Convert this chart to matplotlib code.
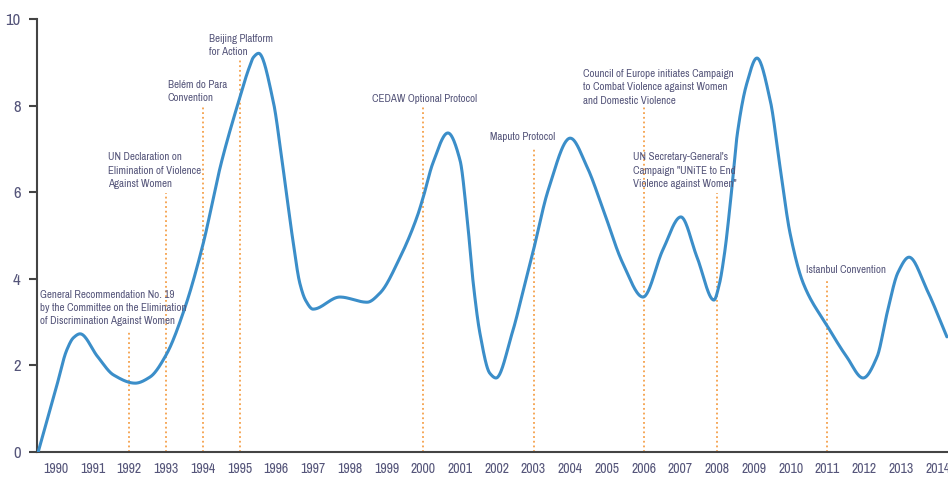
import numpy as np
import matplotlib
matplotlib.use("Agg")
import matplotlib.pyplot as plt
from matplotlib import font_manager

# ---- data ----
curve_year = [1989.52, 1990.0, 1990.3, 1990.48, 1990.66, 1991.14, 1991.57, 1992.16, 1992.56,
              1993.0, 1993.5, 1994.0, 1994.5, 1995.0, 1995.25, 1995.38, 1995.52, 1995.91, 1996.18,
              1996.45, 1996.64, 1996.8, 1997.0, 1997.73, 1998.47, 1998.82, 1999.37, 1999.83,
              2000.0, 2000.26, 2000.67, 2001.0, 2001.19, 2001.36, 2001.54, 2001.81,
              2001.98, 2002.42, 2002.77, 2003.0, 2003.4, 2004.0, 2004.46, 2004.9,
              2005.43, 2005.98, 2006.52, 2007.01, 2007.45, 2007.91, 2008.05, 2008.2, 2008.35,
              2008.55, 2008.8, 2009.08, 2009.44, 2009.71, 2009.98, 2010.34, 2011.01, 2011.53,
              2011.97, 2012.35, 2012.62, 2012.92, 2013.22, 2013.71, 2014.25]
curve_value = [0.0, 1.45, 2.36, 2.64, 2.73, 2.2, 1.78, 1.59, 1.73,
               2.24, 3.3, 4.78, 6.67, 8.17, 8.85, 9.12, 9.21, 8.13, 6.58,
               4.9, 3.9, 3.5, 3.30, 3.58, 3.46, 3.67, 4.5, 5.43,
               5.89, 6.67, 7.37, 6.74, 5.43, 3.9, 2.75, 1.82,
               1.71, 2.75, 3.9, 4.67, 6.05, 7.25, 6.58, 5.59,
               4.36, 3.58, 4.67, 5.43, 4.5, 3.51, 3.85, 4.6, 5.7,
               7.37, 8.5, 9.1, 8.13, 6.58, 5.06, 3.9, 2.89, 2.19,
               1.71, 2.2, 3.2, 4.15, 4.5, 3.74, 2.66]

tick_years = list(range(1990, 2015))
y_ticks = [0, 2, 4, 6, 8, 10]

event_years = [1992, 1993, 1994, 1995, 2000, 2003, 2006, 2008, 2011]
event_tops = [2.82, 5.98, 8.01, 9.05, 7.97, 7.04, 7.97, 5.98, 3.97]
event_labels = [
    "General Recommendation No. 19\nby the Committee on the Elimination\nof Discrimination Against Women",
    "UN Declaration on\nElimination of Violence\nAgainst Women",
    "Belém do Para\nConvention",
    "Beijing Platform\nfor Action",
    "CEDAW Optional Protocol",
    "Maputo Protocol",
    "Council of Europe initiates Campaign\nto Combat Violence against Women\nand Domestic Violence",
    "UN Secretary-General's\nCampaign \"UNiTE to End\nViolence against Women\"",
    "Istanbul Convention",
]
label_x = [1989.57, 1991.43, 1993.05, 1994.17, 1998.6, 2001.82, 2004.35, 2005.7, 2010.42]
label_bottom = [2.9, 6.08, 8.06, 9.13, 8.05, 7.15, 8.0, 6.08, 4.08]


def pchip(x, y, n=30):
    """Monotone cubic (Fritsch-Carlson) rendering of the read points (drawing only)."""
    x = np.asarray(x, float); y = np.asarray(y, float)
    h = np.diff(x); d = np.diff(y) / h
    m = np.zeros_like(y)
    for k in range(1, len(x) - 1):
        if d[k - 1] * d[k] > 0:
            w1 = 2 * h[k] + h[k - 1]; w2 = h[k] + 2 * h[k - 1]
            m[k] = (w1 + w2) / (w1 / d[k - 1] + w2 / d[k])
    m[0] = d[0]; m[-1] = d[-1]
    xs, ys = [], []
    for k in range(len(x) - 1):
        t = np.linspace(0, 1, n, endpoint=False)
        h00 = 2 * t**3 - 3 * t**2 + 1; h10 = t**3 - 2 * t**2 + t
        h01 = -2 * t**3 + 3 * t**2; h11 = t**3 - t**2
        xs.append(x[k] + t * h[k])
        ys.append(h00 * y[k] + h10 * h[k] * m[k] + h01 * y[k + 1] + h11 * h[k] * m[k + 1])
    xs.append([x[-1]]); ys.append([y[-1]])
    return np.concatenate(xs), np.concatenate(ys)


names = sorted({f.name for f in font_manager.fontManager.ttflist})
cands = [n for n in names if ("Condensed" in n or "Narrow" in n)]
family = cands[0] if cands else "Liberation Sans"
plt.rcParams["font.family"] = [family, "DejaVu Sans"]
condensed = bool(cands)

text_color = "#55557a"
line_color = "#3b8ec9"
event_color = "#f5a04a"
axis_color = "#444444"

fig = plt.figure(figsize=(9.48, 4.78), dpi=100)
ax = fig.add_axes([0.0395, 0.0544, 0.9605, 0.9056])
ax.set_xlim(1989.5, 2014.28)
ax.set_ylim(0, 10)

for ex, et in zip(event_years, event_tops):
    ax.plot([ex, ex], [0, et], color=event_color, lw=1.3, ls=(0, (1, 1.6)), zorder=1)

cx, cy = pchip(curve_year, curve_value)
ax.plot(cx, cy, color=line_color, lw=2.2, zorder=3, solid_capstyle="round")

lab_size = 7.9 if condensed else 7.0
for lx, lb, txt in zip(label_x, label_bottom, event_labels):
    ax.text(lx, lb, txt, ha="left", va="bottom", fontsize=lab_size, color=text_color,
            linespacing=1.4, zorder=4)

for s in ["top", "right"]:
    ax.spines[s].set_visible(False)
for s in ["left", "bottom"]:
    ax.spines[s].set_color(axis_color)
    ax.spines[s].set_linewidth(1.5)

ax.set_xticks(tick_years)
ax.set_xticklabels([str(y) for y in tick_years])
ax.set_yticks(y_ticks)
ax.set_yticklabels([str(y) for y in y_ticks])
ax.tick_params(axis="x", length=0, pad=7, labelsize=10 if condensed else 9, labelcolor=text_color)
ax.tick_params(axis="y", length=6, width=1.5, color=axis_color, pad=6,
               labelsize=12, labelcolor=text_color)

fig.savefig("out.png", dpi=100)
